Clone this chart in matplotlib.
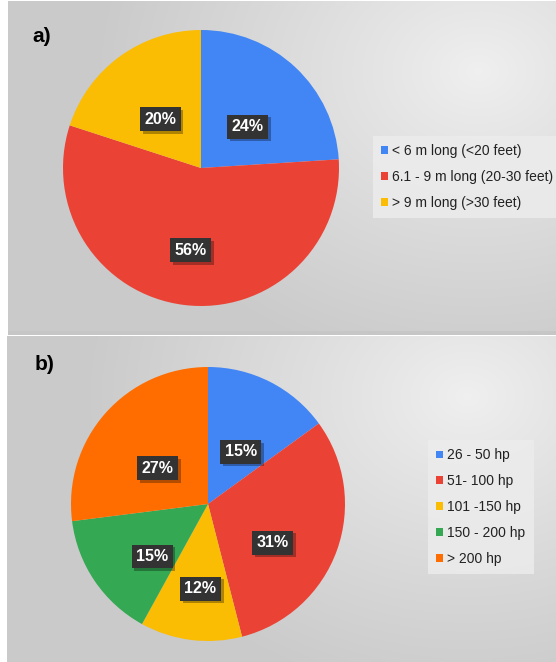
import numpy as np
import matplotlib
matplotlib.use("Agg")
import matplotlib.pyplot as plt
import matplotlib.patheffects as pe

plt.rcParams['font.family'] = ['Liberation Sans', 'DejaVu Sans']

# ---- data ----
labels_a = ["< 6 m long (<20 feet)", "6.1 - 9 m long (20-30 feet)", "> 9 m long (>30 feet)"]
values_a = [24, 56, 20]
colors_a = ["#4285F4", "#EA4335", "#FBBC04"]

labels_b = ["26 - 50 hp", "51- 100 hp", "101 -150 hp", "150 - 200 hp", "> 200 hp"]
values_b = [15, 31, 12, 15, 27]
colors_b = ["#4285F4", "#EA4335", "#FBBC04", "#34A853", "#FF6D01"]

# label placement style (fraction of radius, angle tweak in degrees)
lab_r_a = [0.45, 0.60, 0.46]
lab_dang_a = [-5, 0, 4]
lab_r_b = [0.45, 0.55, 0.62, 0.56, 0.45]
lab_dang_b = [-5, -11, 2, 9, 6]

W, H = 556, 662
fig = plt.figure(figsize=(W / 100, H / 100), dpi=100)
fig.patch.set_facecolor("white")


def px_axes(x0, y0, x1, y1, **kw):
    return fig.add_axes([x0 / W, 1 - y1 / H, (x1 - x0) / W, (y1 - y0) / H], **kw)


def background(x0, y0, x1, y1, cx, cy):
    ax = px_axes(x0, y0, x1, y1)
    w, h = x1 - x0, y1 - y0
    yy, xx = np.mgrid[0:h, 0:w]
    d = np.sqrt(((xx - cx) / 380.0) ** 2 + ((yy - cy) / 300.0) ** 2)
    d = np.clip(d, 0, 1)
    v = 0.94 - 0.145 * d ** 0.9
    img = np.dstack([v, v, v])
    ax.imshow(img, aspect="auto", extent=[0, 1, 0, 1], interpolation="bilinear")
    ax.set_axis_off()
    return ax


background(8, 1, 556, 333, 470, 70)
sep = px_axes(8, 331, 556, 335)
sep.set_facecolor("#c6c6c6")
sep.set_xticks([]); sep.set_yticks([])
for s in sep.spines.values():
    s.set_visible(False)
background(7, 336, 556, 662, 460, 60)


def draw_pie(cx, cy, r, values, colors, labels, lab_r, lab_dang, legend_anchor, title, title_xy):
    ax = px_axes(cx - r, cy - r, cx + r, cy + r)
    wedges, _ = ax.pie(values, colors=colors, startangle=90, counterclock=False,
                       wedgeprops=dict(linewidth=0))
    ax.set_xlim(-1, 1)
    ax.set_ylim(-1, 1)
    ax.set_aspect("auto")
    total = float(sum(values))
    for w, v, fr, da in zip(wedges, values, lab_r, lab_dang):
        mid = np.deg2rad((w.theta1 + w.theta2) / 2 + da)
        t = ax.text(fr * np.cos(mid), fr * np.sin(mid), f"{100 * v / total:.0f}%",
                    ha="center", va="center", color="white", fontsize=11.5,
                    fontweight="bold")
        t.set_bbox(dict(boxstyle="square,pad=0.28", facecolor="#333333", edgecolor="none"))
        t.get_bbox_patch().set_path_effects([
            pe.SimplePatchShadow(offset=(2, -2), shadow_rgbFace="black", alpha=0.3),
            pe.Normal()])
    leg = fig.legend(wedges, labels, loc="center left",
                     bbox_to_anchor=(legend_anchor[0] / W, 1 - legend_anchor[1] / H),
                     frameon=True, fontsize=10, handlelength=0.5, handleheight=0.5,
                     handletextpad=0.3, labelspacing=0.85, borderpad=0.6,
                     fancybox=False, labelcolor="#222222")
    leg.get_frame().set_facecolor("#ececec")
    leg.get_frame().set_edgecolor("none")
    leg.get_frame().set_alpha(0.85)
    fig.text(title_xy[0] / W, 1 - title_xy[1] / H, title, fontsize=15,
             fontweight="bold", color="black", ha="left", va="center")


draw_pie(201, 168, 138, values_a, colors_a, labels_a, lab_r_a, lab_dang_a,
         (366, 177), "a)", (32, 37))
draw_pie(208, 504, 137, values_b, colors_b, labels_b, lab_r_b, lab_dang_b,
         (421, 507), "b)", (35, 365))

fig.savefig("out.png", dpi=100, facecolor=fig.get_facecolor())
